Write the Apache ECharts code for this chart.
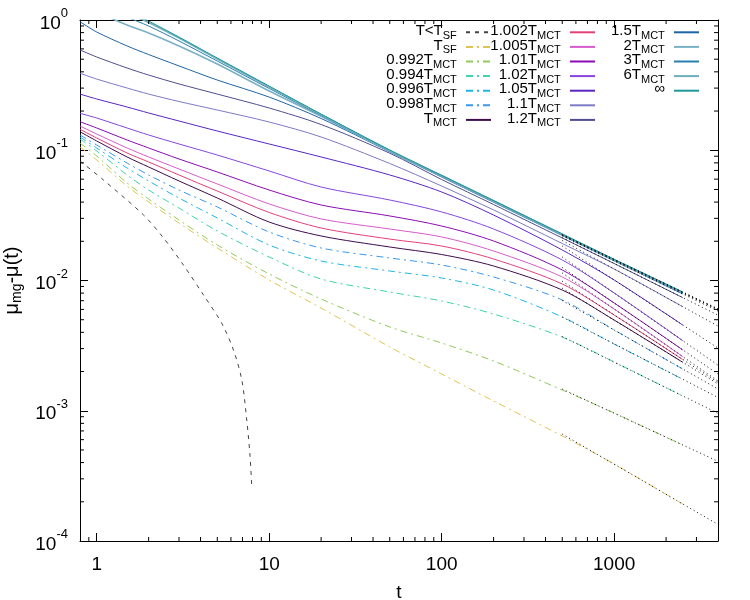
<!DOCTYPE html>
<html>
<head>
<meta charset="utf-8">
<script src="https://cdn.jsdelivr.net/npm/echarts@6/dist/echarts.min.js"></script>
<style>
  html, body { margin: 0; padding: 0; background: #fff; }
  #chart { width: 750px; height: 600px; }
</style>
</head>
<body>
<div id="chart"></div>
<script>
// time grid shared by the relaxation curves
const tGrid = [0.8, 1, 1.5, 2, 3, 5, 10, 20, 50, 100, 200, 500, 1000, 2500];

// mu_mg - mu(t)
const muInf  = [1.857, 1.583, 1.193, 0.982, 0.740, 0.511, 0.311, 0.1897, 0.1004, 0.0642, 0.0411, 0.02275, 0.01455, 0.00816];
const mu6    = [1.730, 1.488, 1.132, 0.957, 0.727, 0.502, 0.306, 0.1875, 0.0997, 0.0639, 0.0409, 0.02263, 0.01447, 0.00811];
const mu3    = [1.583, 1.375, 1.054, 0.899, 0.690, 0.484, 0.298, 0.1852, 0.0992, 0.0635, 0.0408, 0.02251, 0.01442, 0.00807];
const mu2    = [1.327, 1.152, 0.915, 0.795, 0.632, 0.459, 0.285, 0.1823, 0.0983, 0.0630, 0.0404, 0.02235, 0.01432, 0.00802];
const mu15   = [0.970, 0.809, 0.632, 0.543, 0.444, 0.346, 0.256, 0.1753, 0.0973, 0.0623, 0.0399, 0.02215, 0.01417, 0.00788];
const mu12   = [0.589, 0.520, 0.428, 0.378, 0.323, 0.270, 0.211, 0.1576, 0.0949, 0.0596, 0.0383, 0.0212, 0.0135, 0.00738];
const mu11   = [0.390, 0.352, 0.3005, 0.270, 0.2367, 0.2037, 0.1647, 0.1264, 0.0791, 0.0531, 0.0348, 0.01923, 0.01225, 0.00629];
const mu105  = [0.270, 0.2474, 0.2148, 0.1932, 0.1677, 0.1405, 0.1117, 0.0888, 0.0646, 0.0478, 0.0318, 0.01715, 0.01009, 0.00455];
const mu102  = [0.1921, 0.1768, 0.1482, 0.1310, 0.1117, 0.0919, 0.0693, 0.0522, 0.0415, 0.0336, 0.02485, 0.01437, 0.00802, 0.00345];
const mu101  = [0.1656, 0.1482, 0.1199, 0.1041, 0.0857, 0.0681, 0.0495, 0.0380, 0.0313, 0.0262, 0.0201, 0.01204, 0.00672, 0.00293];
const mu1005 = [0.1535, 0.1332, 0.1041, 0.0888, 0.0718, 0.0551, 0.0387, 0.0297, 0.02485, 0.0216, 0.01684, 0.01064, 0.00604, 0.0026];
const mu1002 = [0.1448, 0.1242, 0.0953, 0.0813, 0.0646, 0.0486, 0.0333, 0.0253, 0.0208, 0.0184, 0.01463, 0.0094, 0.00543, 0.00247];
const muMCT  = [0.1388, 0.1178, 0.0888, 0.0744, 0.0581, 0.0430, 0.0281, 0.02197, 0.01808, 0.01583, 0.01292, 0.00845, 0.00497, 0.002355];
const mu0998 = [0.1310, 0.1097, 0.0798, 0.0646, 0.0495, 0.0367, 0.02357, 0.01777, 0.01489, 0.01315, 0.01064, 0.00709, 0.00417, 0.00209];
const mu0996 = [0.1264, 0.1041, 0.0731, 0.0581, 0.0430, 0.0302, 0.01873, 0.01412, 0.01183, 0.01045, 0.00845, 0.00525, 0.00325, 0.001744];
const mu0994 = [0.1220, 0.0987, 0.0646, 0.0495, 0.0360, 0.0240, 0.01515, 0.01027, 0.00816, 0.00696, 0.00553, 0.00368, 0.002367, 0.001297];
const mu0992 = [0.1137, 0.0903, 0.0561, 0.0422, 0.02914, 0.01873, 0.01122, 0.00721, 0.0044, 0.00331, 0.00241, 0.001443, 0.000961, 0.000546];
const muSF   = [0.1059, 0.0842, 0.0531, 0.0401, 0.02763, 0.01777, 0.01009, 0.00615, 0.00309, 0.001915, 0.001188, 0.00064, 0.00039, 0.000192];

// T < T_SF has its own time points (it drops off near t = 8)
const tSub  = [0.8, 1.094, 1.87, 2.44, 3.18, 4.16, 5.31, 6.21, 6.94, 7.41, 7.75, 7.93];
const muSub = [0.0827, 0.0591, 0.0318, 0.0212, 0.01315, 0.00774, 0.00469, 0.00292, 0.00172, 0.000849, 0.000444, 0.000254];

// dotted power-law fits, same order as curves below (T_SF ... inf)
const fitT     = [500, 4000];
const fitStart = [0.000662, 0.001466, 0.00371, 0.00524, 0.00702, 0.00873, 0.00988, 0.01142, 0.01259, 0.01515, 0.0184, 0.02028, 0.02135, 0.02207, 0.02215, 0.0223, 0.02242, 0.02246];
const fitEnd   = [0.000134, 0.000409, 0.000956, 0.001264, 0.001469, 0.001607, 0.001654, 0.00169, 0.001915, 0.00224, 0.00303, 0.00447, 0.00542, 0.00583, 0.00596, 0.0060, 0.00603, 0.00607];

// axes
const xRange = [0.8, 4000];
const yRange = [1e-4, 1];
const xMinorTicks = [0.9, 2, 3, 4, 5, 6, 7, 8, 9, 20, 30, 40, 50, 60, 70, 80, 90,
  200, 300, 400, 500, 600, 700, 800, 900, 2000, 3000];
const yMinorTicks = [];
[1e-4, 1e-3, 1e-2, 1e-1].forEach(d => { for (let k = 2; k <= 9; k++) yMinorTicks.push(+(k * d).toPrecision(3)); });

const FONT = 'Liberation Sans, Arial, Helvetica, sans-serif';
const DASHDOT = [7, 4, 2, 4];

const curves = [
  { name: 'T<TSF', label: '{a|T<T}{s|SF}',       color: '#444444', dash: [4, 5], t: tSub, mu: muSub },
  { name: 'TSF',   label: '{a|T}{s|SF}',         color: '#dfc350', dash: DASHDOT, mu: muSF },
  { name: '0.992', label: '{a|0.992T}{s|MCT}',   color: '#8fcb5a', dash: DASHDOT, mu: mu0992 },
  { name: '0.994', label: '{a|0.994T}{s|MCT}',   color: '#3fd4aa', dash: DASHDOT, mu: mu0994 },
  { name: '0.996', label: '{a|0.996T}{s|MCT}',   color: '#1fb4ea', dash: DASHDOT, mu: mu0996 },
  { name: '0.998', label: '{a|0.998T}{s|MCT}',   color: '#3a98ee', dash: DASHDOT, mu: mu0998 },
  { name: 'TMCT',  label: '{a|T}{s|MCT}',        color: '#3d0c4c', mu: muMCT },
  { name: '1.002', label: '{a|1.002T}{s|MCT}',   color: '#e2407a', mu: mu1002 },
  { name: '1.005', label: '{a|1.005T}{s|MCT}',   color: '#d65ccc', mu: mu1005 },
  { name: '1.01',  label: '{a|1.01T}{s|MCT}',    color: '#8a0cb4', mu: mu101 },
  { name: '1.02',  label: '{a|1.02T}{s|MCT}',    color: '#8646de', mu: mu102 },
  { name: '1.05',  label: '{a|1.05T}{s|MCT}',    color: '#5a26c4', mu: mu105 },
  { name: '1.1',   label: '{a|1.1T}{s|MCT}',     color: '#7d7ac6', mu: mu11 },
  { name: '1.2',   label: '{a|1.2T}{s|MCT}',     color: '#4e4e8e', mu: mu12 },
  { name: '1.5',   label: '{a|1.5T}{s|MCT}',     color: '#1f64a6', mu: mu15 },
  { name: '2',     label: '{a|2T}{s|MCT}',       color: '#7ab0c6', width: 1.6, mu: mu2 },
  { name: '3',     label: '{a|3T}{s|MCT}',       color: '#2a7eaa', mu: mu3 },
  { name: '6',     label: '{a|6T}{s|MCT}',       color: '#6eaebc', width: 1.6, mu: mu6 },
  { name: 'inf',   label: '{a|∞}',               color: '#1f979b', mu: muInf }
];

function pairs(ts, vs) { return ts.map((t, i) => [t, vs[i]]); }

const series = curves.map(c => ({
  type: 'line',
  name: c.name,
  data: pairs(c.t || tGrid, c.mu),
  symbol: 'none',
  smooth: 0.3,
  clip: true,
  z: 3,
  lineStyle: { color: c.color, width: c.width || 1, type: c.dash || 'solid' },
  itemStyle: { color: c.color }
}));

fitStart.forEach((v, i) => {
  series.push({
    type: 'line',
    data: [[fitT[0], v], [fitT[1], fitEnd[i]]],
    symbol: 'none',
    silent: true,
    clip: true,
    z: 4,
    lineStyle: { color: '#111', width: 1, type: [1, 3] }
  });
});

function tickLine(x1, y1, x2, y2) {
  return { type: 'line', shape: { x1, y1, x2, y2 }, style: { stroke: '#000', lineWidth: 1 } };
}

// gnuplot style minor ticks on all four sides
series.push({
  type: 'custom', silent: true, z: 5, clip: false,
  data: xMinorTicks.map(t => [t, 1]),
  renderItem: (params, api) => {
    const t = api.value(0);
    const b = api.coord([t, yRange[0]]);
    const u = api.coord([t, yRange[1]]);
    return { type: 'group', children: [tickLine(b[0], b[1], b[0], b[1] - 4), tickLine(u[0], u[1], u[0], u[1] + 4)] };
  }
});
series.push({
  type: 'custom', silent: true, z: 5, clip: false,
  data: yMinorTicks.map(v => [1, v]),
  renderItem: (params, api) => {
    const v = api.value(1);
    const l = api.coord([xRange[0], v]);
    const r = api.coord([xRange[1], v]);
    return { type: 'group', children: [tickLine(l[0], l[1], l[0] + 4, l[1]), tickLine(r[0], r[1], r[0] - 4, r[1])] };
  }
});

// three-column key, text to the left of the sample
const legendCols = [
  { right: 258, names: ['T<TSF', 'TSF', '0.992', '0.994', '0.996', '0.998', 'TMCT'] },
  { right: 154, names: ['1.002', '1.005', '1.01', '1.02', '1.05', '1.1', '1.2'] },
  { right: 50,  names: ['1.5', '2', '3', '6', 'inf'] }
];
const labelOf = {};
curves.forEach(c => { labelOf[c.name] = c.label + '{a| }'; });

const legends = [];
legendCols.forEach(col => {
  col.names.forEach((n, i) => {
    legends.push({
      data: [n],
      right: col.right,
      top: 34.3 + 14.6 * i - 11,
      orient: 'vertical',
      align: 'right',
      padding: 0,
      itemGap: 0,
      itemWidth: 25,
      itemHeight: 12,
      selectedMode: false,
      itemStyle: { opacity: 0 },
      formatter: name => labelOf[name],
      textStyle: {
        color: '#000',
        rich: {
          a: { fontSize: 15, fontFamily: FONT, color: '#000', lineHeight: 18, verticalAlign: 'top' },
          s: { fontSize: 11, fontFamily: FONT, color: '#000', lineHeight: 12, verticalAlign: 'bottom' }
        }
      }
    });
  });
});

function isDecade(v) {
  const e = Math.round(Math.log10(v));
  return Math.abs(v / Math.pow(10, e) - 1) < 1e-6 ? e : null;
}

const axisCommon = {
  type: 'log',
  logBase: 10,
  axisLine: { show: true, onZero: false, lineStyle: { color: '#000', width: 1 } },
  axisTick: { show: true, inside: true, length: 8, lineStyle: { color: '#000', width: 1 } },
  splitLine: { show: false },
  minorTick: { show: false },
  minorSplitLine: { show: false }
};

const option = {
  animation: false,
  backgroundColor: '#fff',
  grid: { left: 80, right: 32, top: 20, bottom: 59, containLabel: false, outerBoundsMode: 'none' },
  legend: legends,
  xAxis: [
    Object.assign({}, axisCommon, {
      min: xRange[0], max: xRange[1], position: 'bottom',
      axisLabel: {
        margin: 14, color: '#000', fontSize: 19, fontFamily: FONT,
        showMinLabel: false, showMaxLabel: false,
        formatter: v => { const e = isDecade(v); return e === null ? '' : String(Math.round(Math.pow(10, e))); }
      },
      name: 't', nameLocation: 'middle', nameGap: 42,
      nameTextStyle: { color: '#000', fontSize: 19, fontFamily: FONT }
    }),
    Object.assign({}, axisCommon, {
      min: xRange[0], max: xRange[1], position: 'top', axisLabel: { show: false }
    })
  ],
  yAxis: [
    Object.assign({}, axisCommon, {
      min: yRange[0], max: yRange[1], position: 'left',
      axisLabel: {
        margin: 12, color: '#000',
        formatter: v => { const e = isDecade(v); return e === null ? '' : '{b|10}{s|' + e + '}'; },
        rich: {
          b: { fontSize: 19, fontFamily: FONT, color: '#000', lineHeight: 26, verticalAlign: 'bottom' },
          s: { fontSize: 13, fontFamily: FONT, color: '#000', lineHeight: 13, verticalAlign: 'top' }
        }
      },
      name: '{m|μ}{s|mg}{m|-μ(t)}', nameLocation: 'middle', nameGap: 50, nameRotate: 90,
      nameTextStyle: {
        color: '#000',
        rich: {
          m: { fontSize: 20, fontFamily: FONT, color: '#000', lineHeight: 22, verticalAlign: 'top' },
          s: { fontSize: 14, fontFamily: FONT, color: '#000', lineHeight: 14, verticalAlign: 'bottom' }
        }
      }
    }),
    Object.assign({}, axisCommon, {
      min: yRange[0], max: yRange[1], position: 'right', axisLabel: { show: false }
    })
  ],
  series: series
};

const chart = echarts.init(document.getElementById('chart'), null, { renderer: 'canvas' });
chart.setOption(option);
window.addEventListener('resize', chart.resize);
</script>
</body>
</html>
